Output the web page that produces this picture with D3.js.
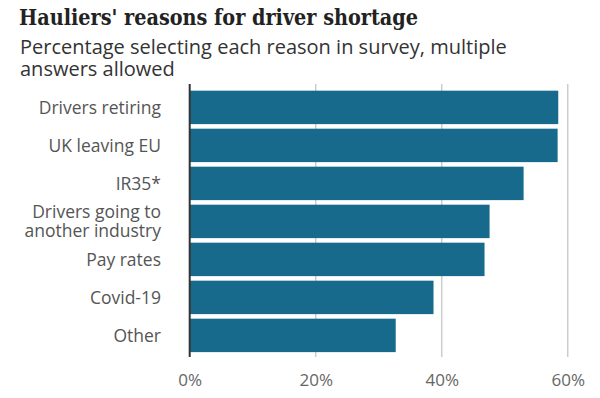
<!DOCTYPE html>
<html>
<head>
<meta charset="utf-8">
<script src="https://cdn.jsdelivr.net/npm/d3@7"></script>
<style>
  body { margin: 0; background: #fff; }
  svg { display: block; }
</style>
</head>
<body>
<svg id="chart"></svg>
<script>
// Data
const reasons = ["Drivers retiring", "UK leaving EU", "IR35*", "Drivers going to another industry", "Pay rates", "Covid-19", "Other"];
const shares = [58.5, 58.4, 53.0, 47.6, 46.8, 38.7, 32.7];
const xTicks = [0, 20, 40, 60];

const width = 600;
const height = 398;
const margin = { top: 88.4, right: 32, bottom: 43.6, left: 189.7 };

const svg = d3.select("#chart")
  .attr("width", width)
  .attr("height", height);

svg.append("rect")
  .attr("width", width)
  .attr("height", height)
  .attr("fill", "#fff");

// Title and subtitle
svg.append("text")
  .attr("x", 19)
  .attr("y", 25)
  .style("font-family", "'DejaVu Serif', serif")
  .style("font-weight", "bold")
  .style("font-size", "22.5px")
  .style("fill", "#222")
  .attr("textLength", 399)
  .attr("lengthAdjust", "spacingAndGlyphs")
  .text("Hauliers' reasons for driver shortage");

const sub = svg.append("text")
  .style("font-family", "'Open Sans', sans-serif")
  .style("font-size", "20px")
  .style("fill", "#333");
sub.append("tspan").attr("x", 20).attr("y", 53.5)
  .text("Percentage selecting each reason in survey, multiple");
sub.append("tspan").attr("x", 20).attr("y", 75.5)
  .text("answers allowed");

const x = d3.scaleLinear()
  .domain([0, 60])
  .range([margin.left, margin.left + 378]);

const y = d3.scaleBand()
  .domain(reasons)
  .range([margin.top, height - margin.bottom])
  .paddingInner(0.12)
  .paddingOuter(0.06);

// Gridlines
svg.append("g")
  .selectAll("line")
  .data(xTicks.filter(d => d > 0))
  .enter().append("line")
  .attr("x1", d => x(d))
  .attr("x2", d => x(d))
  .attr("y1", 84)
  .attr("y2", 357)
  .attr("stroke", "#cccccc")
  .attr("stroke-width", 1.5);

// Bars
svg.append("g")
  .selectAll("rect")
  .data(reasons)
  .enter().append("rect")
  .attr("x", x(0))
  .attr("y", d => y(d))
  .attr("width", (d, i) => x(shares[i]) - x(0))
  .attr("height", y.bandwidth())
  .attr("fill", "#176a8b");

// Zero axis line
svg.append("line")
  .attr("x1", x(0))
  .attr("x2", x(0))
  .attr("y1", 84)
  .attr("y2", 357)
  .attr("stroke", "#333")
  .attr("stroke-width", 2);

// Category labels
const labels = svg.append("g")
  .selectAll("text")
  .data(reasons)
  .enter().append("text")
  .attr("text-anchor", "end")
  .style("font-family", "'Open Sans', sans-serif")
  .style("font-size", "17.5px")
  .style("fill", "#555");

labels.each(function(d) {
  const t = d3.select(this);
  const cy = y(d) + y.bandwidth() / 2;
  const lines = d === "Drivers going to another industry"
    ? ["Drivers going to", "another industry"]
    : [d];
  lines.forEach((line, i) => {
    t.append("tspan")
      .attr("x", 161)
      .attr("y", cy + 6.5 + (i - (lines.length - 1) / 2) * 19)
      .text(line);
  });
});

// X axis
const xAxis = svg.append("g")
  .attr("transform", `translate(0,${height - margin.bottom})`)
  .call(d3.axisBottom(x).tickValues(xTicks).tickFormat(d => d + "%").tickSize(0).tickPadding(20));

xAxis.select(".domain").remove();
xAxis.selectAll("text")
  .style("font-family", "'Open Sans', sans-serif")
  .style("font-size", "17px")
  .style("fill", "#666");
</script>
</body>
</html>
